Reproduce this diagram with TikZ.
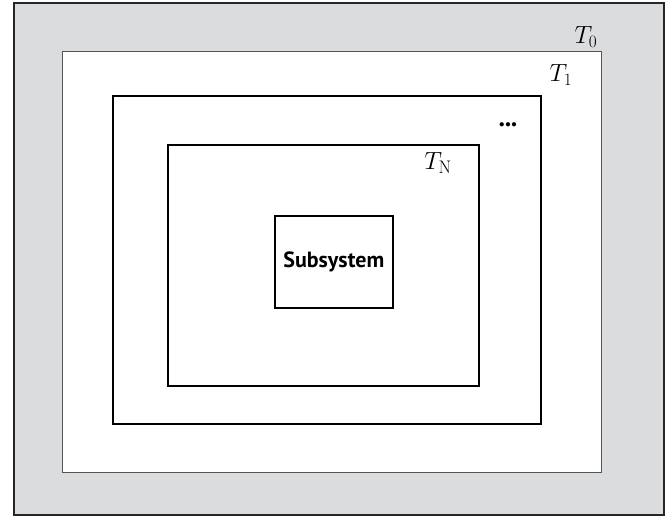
\documentclass[tikz,border=0pt]{standalone}
\usepackage{fontspec}
\newfontfamily\labelsans{PT Sans}
\definecolor{shellgray}{HTML}{DBDCDE}
\definecolor{edgegray}{HTML}{555555}
\begin{document}
\begin{tikzpicture}[x=1pt,y=-1pt,
  shell/.style={rectangle,inner sep=0pt,anchor=north west},
  tlabel/.style={inner sep=0pt,font=\fontsize{26}{26}\selectfont}]
\useasboundingbox (0,0) rectangle (669,515);
% outermost shaded region
\node[shell,draw=black!85,line width=1.8pt,fill=shellgray,
      minimum width=650pt,minimum height=512pt] (outer) at (13,2) {};
% T0 boundary
\node[shell,draw=edgegray,line width=0.9pt,fill=white,
      minimum width=539pt,minimum height=421pt] (t0) at (62,51) {};
% T1 boundary
\node[shell,draw=black,line width=1.8pt,
      minimum width=428pt,minimum height=328pt] (t1) at (112,95) {};
% TN boundary
\node[shell,draw=black,line width=1.8pt,
      minimum width=311pt,minimum height=241pt] (tn) at (167,144) {};
% innermost subsystem
\node[shell,draw=black,line width=1.6pt,
      minimum width=118pt,minimum height=92pt] (sub) at (274,215) {};
\node[font=\labelsans\bfseries\fontsize{22}{22}\selectfont] (subtext) at (sub.center) {Subsystem};
% labels
\node[tlabel] (l0) at (586,37) {$T_{0}$};
\node[tlabel] (l1) at (561,75) {$T_{1}$};
\node[inner sep=0pt,font=\fontsize{11}{11}\selectfont] (dots) at (508,125) {$\bullet\!\bullet\!\bullet$};
\node[tlabel] (ln) at (438,163) {$T_{\mathrm{N}}$};
\end{tikzpicture}
\end{document}
